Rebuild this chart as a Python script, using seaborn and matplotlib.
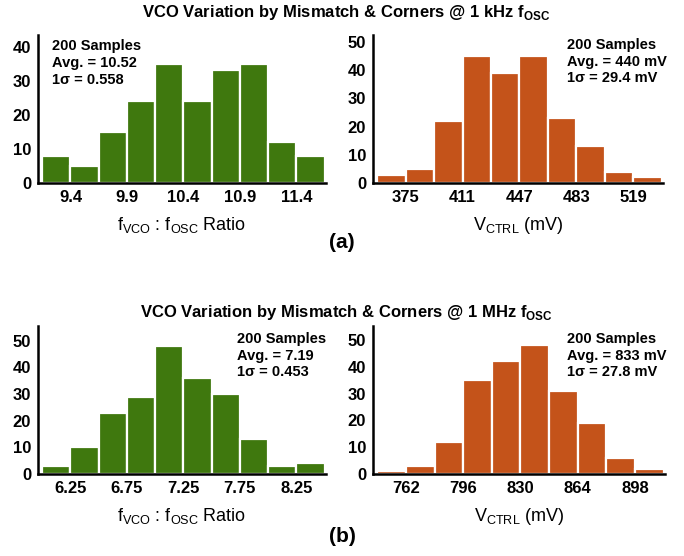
import matplotlib
matplotlib.use("Agg")
import matplotlib.pyplot as plt
import seaborn as sns
import numpy as np
import pandas as pd
from matplotlib import font_manager

sns.set_style("white", {"text.color": "black", "axes.labelcolor": "black",
                        "xtick.color": "black", "ytick.color": "black"})
avail = {f.name for f in font_manager.fontManager.ttflist}
fam = "Liberation Sans Narrow" if "Liberation Sans Narrow" in avail else "Liberation Sans"
plt.rcParams['font.family'] = [fam, 'DejaVu Sans']

# ---- data ----
ratio_1k_edges = [9.15, 9.40, 9.65, 9.90, 10.15, 10.40, 10.65, 10.90, 11.15, 11.40, 11.65]
ratio_1k_counts = [8, 5, 15, 24, 35, 24, 33, 35, 12, 8]
ratio_1k_ticks = [9.4, 9.9, 10.4, 10.9, 11.4]

vctrl_1k_edges = [357, 375, 393, 411, 429, 447, 465, 483, 501, 519, 537]
vctrl_1k_counts = [3, 5, 22, 45, 39, 45, 23, 13, 4, 2]
vctrl_1k_ticks = [375, 411, 447, 483, 519]

ratio_1m_edges = [6.00, 6.25, 6.50, 6.75, 7.00, 7.25, 7.50, 7.75, 8.00, 8.25, 8.50]
ratio_1m_counts = [3, 10, 23, 29, 48, 36, 30, 13, 3, 4]
ratio_1m_ticks = [6.25, 6.75, 7.25, 7.75, 8.25]

vctrl_1m_edges = [745, 762, 779, 796, 813, 830, 847, 864, 881, 898, 915]
vctrl_1m_counts = [1, 3, 12, 35, 42, 48, 31, 19, 6, 2]
vctrl_1m_ticks = [762, 796, 830, 864, 898]

GREEN = "#3F780E"
ORANGE = "#C4531A"

W, H = 684, 556
fig = plt.figure(figsize=(W / 100, H / 100), dpi=100)


def ax_at(x0, y0, x1, y1):
    return fig.add_axes([x0 / W, 1 - y1 / H, (x1 - x0) / W, (y1 - y0) / H])


def panel(ax, edges, counts, ticks, yticks, ytop, color, xlabel, note, note_xy):
    e = np.array(edges, dtype=float)
    df = pd.DataFrame({"x": (e[:-1] + e[1:]) / 2, "n": counts})
    sns.histplot(data=df, x="x", weights="n", bins=list(edges), ax=ax, color=color,
                 alpha=1, edgecolor="white", linewidth=1.6)
    bw = e[1] - e[0]
    ax.set_xlim(e[0] - 0.15 * bw, e[-1] + 0.05 * bw)
    ax.set_ylim(0, ytop)
    ax.set_xticks(ticks)
    ax.set_xticklabels([f"{t:g}" for t in ticks], fontsize=12, fontweight="bold")
    ax.set_yticks(yticks)
    ax.set_yticklabels([str(t) for t in yticks], fontsize=12, fontweight="bold")
    ax.tick_params(length=0, pad=5, colors="black")
    ax.set_ylabel("")
    ax.set_xlabel(xlabel, fontsize=13, labelpad=7, color="black")
    for s in ["top", "right"]:
        ax.spines[s].set_visible(False)
    for s in ["left", "bottom"]:
        ax.spines[s].set_color("black")
        ax.spines[s].set_linewidth(1.8)
    ax.grid(False)
    ax.text(note_xy[0], note_xy[1], note, transform=ax.transAxes, ha="left",
            va="top", fontsize=10.5, fontweight="bold", linespacing=1.25, color="black")


ratio_label = r"f$_{\mathdefault{VCO}}$ : f$_{\mathdefault{OSC}}$ Ratio"
vctrl_label = r"V$_{\mathdefault{CTRL}}$ (mV)"

ax1 = ax_at(38, 35, 326, 183)
panel(ax1, ratio_1k_edges, ratio_1k_counts, ratio_1k_ticks, [0, 10, 20, 30, 40], 43.4,
      GREEN, ratio_label, "200 Samples\nAvg. = 10.52\n1σ = 0.558", (14 / 288, 0.97))

ax2 = ax_at(373, 35, 663, 183)
panel(ax2, vctrl_1k_edges, vctrl_1k_counts, vctrl_1k_ticks, [0, 10, 20, 30, 40, 50], 52.4,
      ORANGE, vctrl_label, "200 Samples\nAvg. = 440 mV\n1σ = 29.4 mV", (194 / 290, 0.98))

ax3 = ax_at(38, 326, 326, 474)
panel(ax3, ratio_1m_edges, ratio_1m_counts, ratio_1m_ticks, [0, 10, 20, 30, 40, 50], 55.5,
      GREEN, ratio_label, "200 Samples\nAvg. = 7.19\n1σ = 0.453", (199 / 288, 0.96))

ax4 = ax_at(373, 326, 665, 474)
panel(ax4, vctrl_1m_edges, vctrl_1m_counts, vctrl_1m_ticks, [0, 10, 20, 30, 40, 50], 55.2,
      ORANGE, vctrl_label, "200 Samples\nAvg. = 833 mV\n1σ = 27.8 mV", (194 / 292, 0.96))

fig.text(346 / W, 1 - 12 / H, r"VCO Variation by Mismatch & Corners @ 1 kHz f$_{\mathdefault{OSC}}$",
         ha="center", va="center", fontsize=12, fontweight="bold", color="black")
fig.text(346 / W, 1 - 312 / H, r"VCO Variation by Mismatch & Corners @ 1 MHz f$_{\mathdefault{OSC}}$",
         ha="center", va="center", fontsize=12, fontweight="bold", color="black")
fig.text(342 / W, 1 - 242 / H, "(a)", ha="center", va="center", fontsize=15, fontweight="bold",
         color="black")
fig.text(342 / W, 1 - 537 / H, "(b)", ha="center", va="center", fontsize=15, fontweight="bold",
         color="black")

fig.savefig("out.png", dpi=100)
